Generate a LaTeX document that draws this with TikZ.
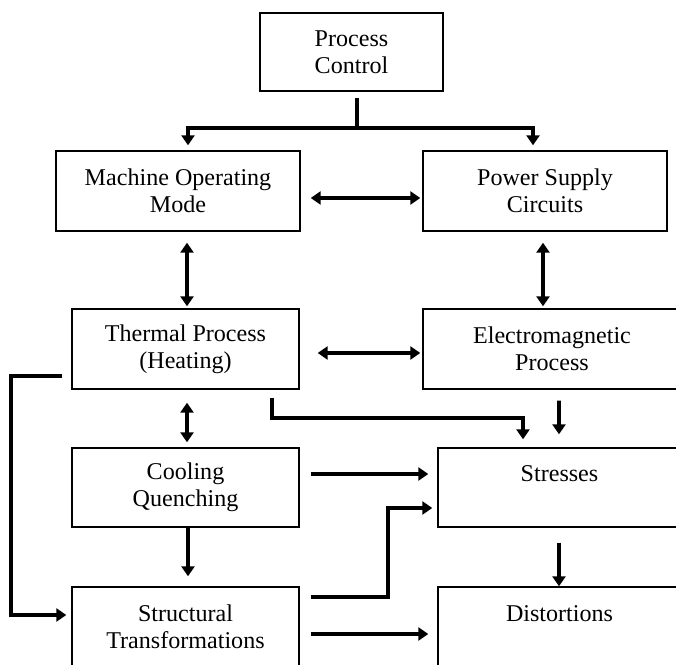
\documentclass[tikz,border=0pt]{standalone}
\usepackage{fontspec}
\setmainfont{Liberation Serif}
\usetikzlibrary{arrows.meta,calc}

\begin{document}
\begin{tikzpicture}[
    blockbox/.style={draw, line width=0.8pt, minimum width=4.54cm, minimum height=1.6cm, align=center, inner sep=0pt, font=\fontsize{13.7}{15.6}\selectfont},
    link/.style={line width=2.2pt},
    flow/.style={link, -{Triangle[length=2mm,width=2.6mm]}},
    twoway/.style={link, {Triangle[length=2mm,width=2.6mm]}-{Triangle[length=2mm,width=2.6mm]}}
]
    \useasboundingbox (0,0) rectangle (13.52,13.28);
    \clip (0,0) rectangle (13.52,13.28);
    \node[blockbox, minimum width=3.66cm, minimum height=1.56cm] (pc) at (7.03,12.24) {Process\\Control};
    \node[blockbox, minimum width=4.88cm] (mach) at (3.56,9.46) {Machine Operating\\Mode};
    \node[blockbox, minimum width=4.88cm] (power) at (10.90,9.46) {Power Supply\\Circuits};
    \node[blockbox] (therm) at (3.71,6.30) {Thermal Process\\(Heating)};
    \node[blockbox, minimum width=5.16cm] (em) at (11.04,6.30) {Electromagnetic\\Process};
    \node[blockbox, minimum height=1.58cm] (cool) at (3.71,3.53) {Cooling\\Quenching};
    \node[blockbox, minimum width=4.86cm, minimum height=1.58cm] (stress) at (11.19,3.53) {Stresses\\~};
    \node[blockbox] (struct) at (3.71,0.74) {Structural\\Transformations};
    \node[blockbox, minimum width=4.86cm] (dist) at (11.19,0.74) {Distortions\\~};

    % control splits to both sides
    \draw[link] ($(pc.south)+(0.11,-0.12)$) -- ++(0,-0.6) coordinate (split);
    \draw[flow] (split) -| ($(mach.north)+(0.2,0.1)$);
    \draw[flow] (split) -| ($(power.north)+(-0.24,0.1)$);

    \draw[twoway] ($(mach.east)+(0.2,-0.14)$) -- ($(power.west)+(-0.04,-0.14)$);
    \draw[twoway] ($(mach.south)+(0.18,-0.22)$) -- ($(therm.north)+(0.03,0.04)$);
    \draw[twoway] ($(power.south)+(-0.04,-0.22)$) -- ($(em.north)+(-0.18,0.04)$);
    \draw[twoway] ($(therm.east)+(0.36,-0.08)$) -- ($(em.west)+(-0.04,-0.08)$);
    \draw[twoway] ($(therm.south)+(0.03,-0.26)$) -- ($(cool.north)+(0.03,0.1)$);

    \draw[flow] ($(therm.west)+(-0.18,-0.54)$) -- ++(-1.02,0) |- ($(struct.west)+(-0.1,0.24)$);
    \draw[flow] ($(therm.south)+(1.73,-0.16)$) -- ++(0,-0.4) -| ($(stress.north)+(-0.73,0.16)$);
    \draw[flow] ($(em.south)+(0.14,-0.22)$) -- ($(stress.north)+(-0.01,0.26)$);

    \draw[flow] ($(cool.east)+(0.22,0.27)$) -- ($(stress.west)+(-0.18,0.27)$);
    \draw[flow] ($(cool.south)+(0.05,0)$) -- ($(struct.north)+(0.05,0.2)$);
    \draw[flow] ($(struct.east)+(0.22,0.6)$) -- ++(1.54,0) |- ($(stress.west)+(-0.1,-0.41)$);
    \draw[flow] ($(struct.east)+(0.22,-0.14)$) -- ($(dist.west)+(-0.18,-0.14)$);
    \draw[flow] ($(stress.south)+(-0.01,-0.3)$) -- ($(dist.north)+(-0.01,0)$);
\end{tikzpicture}
\end{document}
